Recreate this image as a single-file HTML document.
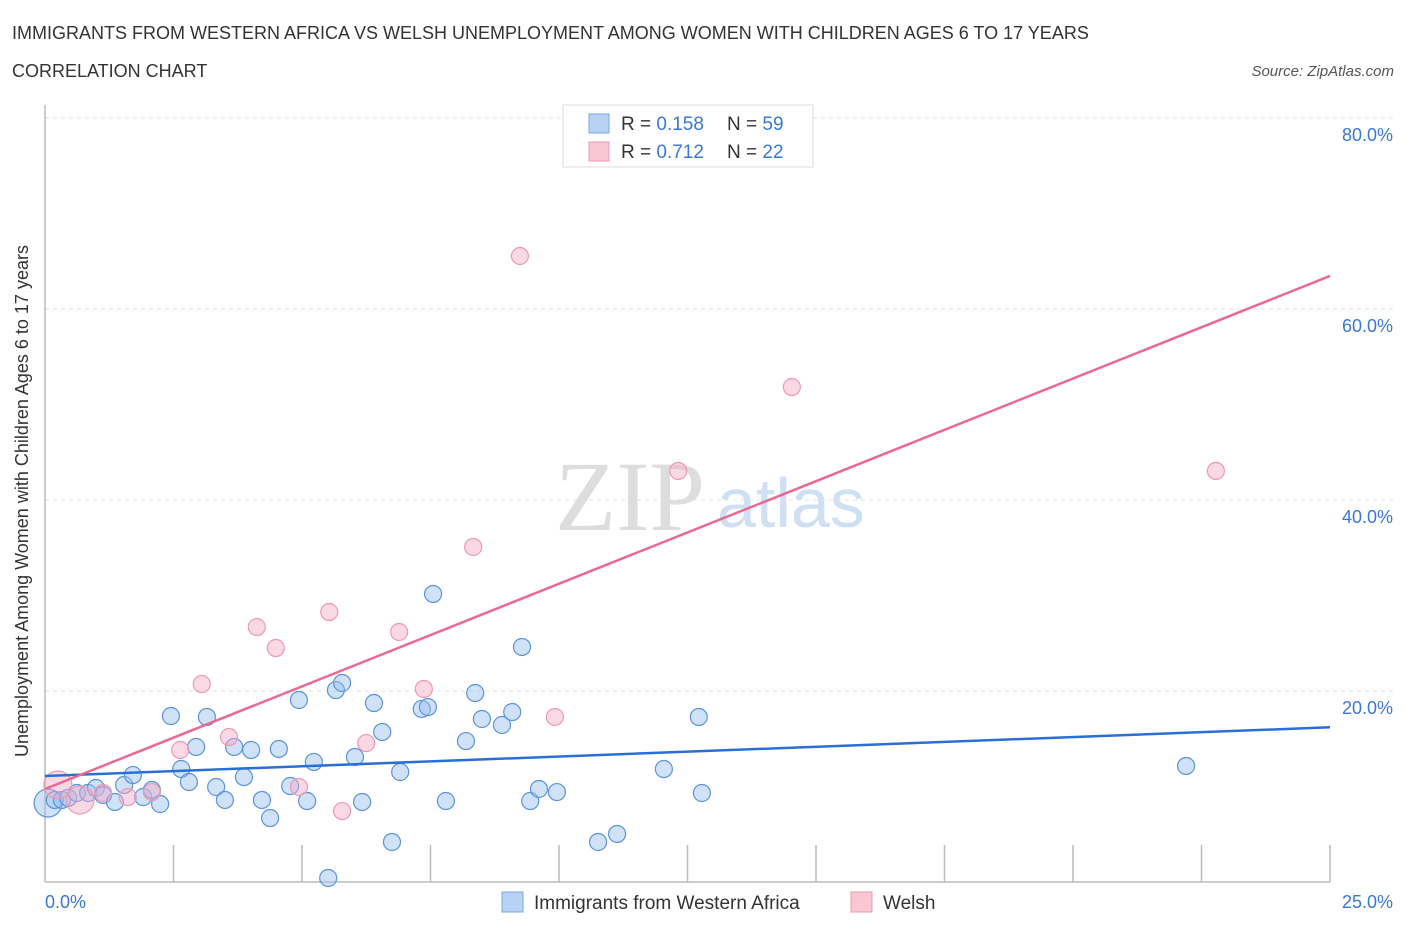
<!DOCTYPE html>
<html><head><meta charset="utf-8"><style>
body{margin:0;background:#fff;font-family:"Liberation Sans",sans-serif;}
</style></head><body>
<svg width="1406" height="930" xmlns="http://www.w3.org/2000/svg" id="chart">
<text x="12" y="39" font-size="18" fill="#333">IMMIGRANTS FROM WESTERN AFRICA VS WELSH UNEMPLOYMENT AMONG WOMEN WITH CHILDREN AGES 6 TO 17 YEARS</text>
<text x="12" y="77" font-size="18" fill="#333">CORRELATION CHART</text>
<text x="1394" y="76" font-size="15" fill="#555" font-style="italic" text-anchor="end">Source: ZipAtlas.com</text>
<text x="555" y="530" font-size="100" fill="#ddd" font-family="Liberation Serif,serif">ZIP</text>
<text x="717" y="527" font-size="70" fill="#cfe0f3">atlas</text>
<g id="grid"></g>
<line x1="45" y1="105" x2="45" y2="882" stroke="#bbb" stroke-width="1.5"/>
<line x1="45" y1="882" x2="1330" y2="882" stroke="#bbb" stroke-width="1.5"/>
<g id="ticks"></g>
<text x="22" y="495" font-size="18" fill="#333" text-anchor="middle" transform="rotate(-90 28 495)">Unemployment Among Women with Children Ages 6 to 17 years</text>
<text x="45" y="908" font-size="18" fill="#3a78d4">0.0%</text>
<text x="1393" y="908" font-size="18" fill="#3a78d4" text-anchor="end">25.0%</text>
<g id="points"></g>
<g id="lines"></g>
<g>
<rect x="563" y="105" width="250" height="62" fill="#fff" stroke="#ddd"/>
<rect x="589" y="114" width="20" height="19" fill="#b8d2f3" stroke="#7aa7e3"/>
<rect x="589" y="142" width="20" height="19" fill="#f9c6d4" stroke="#eb9ab1"/>
<text x="621" y="130" font-size="19" fill="#333">R = <tspan fill="#3a78d4">0.158</tspan><tspan x="727">N = </tspan><tspan fill="#3a78d4">59</tspan></text>
<text x="621" y="158" font-size="19" fill="#333">R = <tspan fill="#3a78d4">0.712</tspan><tspan x="727">N = </tspan><tspan fill="#3a78d4">22</tspan></text>
</g>
<g>
<rect x="502" y="892" width="21" height="20" fill="#b8d2f3" stroke="#7aa7e3"/>
<text x="534" y="909" font-size="19" fill="#333">Immigrants from Western Africa</text>
<rect x="851" y="892" width="21" height="20" fill="#f9c6d4" stroke="#eb9ab1"/>
<text x="883" y="909" font-size="19" fill="#333">Welsh</text>
</g>
</svg>
<script>
const yTicks=[20,40,60,80];
const yTickLabels=["20.0%","40.0%","60.0%","80.0%"];
const xTickVals=[2.5,5,7.5,10,12.5,15,17.5,20,22.5,25];
const blueX=[0.06,0.19,0.33,0.45,0.62,0.84,0.99,1.13,1.36,1.54,1.71,1.91,2.08,2.24,2.45,2.65,2.80,2.94,3.15,3.33,3.50,3.68,3.87,4.01,4.22,4.38,4.55,4.77,4.94,5.10,5.23,5.51,5.66,5.78,6.03,6.17,6.40,6.56,6.75,6.91,7.33,7.45,7.55,7.80,8.19,8.37,8.50,8.89,9.09,9.28,9.44,9.61,9.96,10.76,11.13,12.04,12.72,12.78,22.20];
const blueY=[8.27,8.59,8.59,8.80,9.32,9.32,9.84,9.11,8.38,10.16,11.20,8.90,9.63,8.17,17.38,11.83,10.47,14.14,17.28,9.95,8.59,14.14,10.99,13.82,8.59,6.70,13.93,10.05,19.06,8.48,12.57,0.42,20.10,20.84,13.09,8.38,18.74,15.71,4.19,11.52,18.12,18.32,30.16,8.48,14.76,19.79,17.07,16.44,17.80,24.61,8.48,9.74,9.42,4.19,5.03,11.83,17.28,9.32,12.15];
const pinkX=[0.25,0.68,1.13,1.61,2.08,2.63,3.05,3.58,4.12,4.49,4.94,5.53,5.78,6.25,6.89,7.37,8.33,9.24,9.92,12.32,14.53,22.78];
const pinkY=[10.16,8.59,9.32,8.90,9.42,13.82,20.73,15.18,26.70,24.50,9.95,28.27,7.43,14.55,26.18,20.21,35.08,65.55,17.28,43.04,51.83,43.04];
const blueTrend=[11.1,16.2];
const pinkTrend=[9.74,63.46];
const NS="http://www.w3.org/2000/svg";
const xs=v=>45+v/25*1285, ys=v=>882-v*9.55;
function mk(t,a,p){const e=document.createElementNS(NS,t);for(const k in a)e.setAttribute(k,a[k]);document.getElementById(p).appendChild(e);return e;}
yTicks.forEach((v,i)=>{
 const l=mk('line',{x1:45,x2:1395,y1:ys(v),y2:ys(v),stroke:'#e0e0e0','stroke-dasharray':'4,4'},'grid');
 
 
 const t=mk('text',{x:1393,y:ys(v)+23,'font-size':18,fill:'#3a78d4','text-anchor':'end'},'grid');
 t.textContent=yTickLabels[i];
 
 
});
xTickVals.forEach(v=>{
 const l=mk('line',{x1:xs(v),x2:xs(v),y1:845,y2:882,stroke:'#bbb','stroke-width':1.5},'ticks');
 
 
});
blueX.forEach((x,i)=>{
 const c=mk('circle',{cx:xs(x),cy:ys(blueY[i]),r:i==0?14:8.5,fill:'rgba(150,190,240,0.45)',stroke:'#5b93dd','stroke-width':1.2},'points');
 
 
});
pinkX.forEach((x,i)=>{
 const c=mk('circle',{cx:xs(x),cy:ys(pinkY[i]),r:i<2?14:8.5,fill:'rgba(245,170,195,0.45)',stroke:'#ec9ab3','stroke-width':1.2},'points');
 
 
});
const bl=mk('line',{x1:xs(0),x2:xs(25),y1:ys(blueTrend[0]),y2:ys(blueTrend[1]),stroke:'#2a6fd6','stroke-width':2.5},'lines');


const pl=mk('line',{x1:xs(0),x2:xs(25),y1:ys(pinkTrend[0]),y2:ys(pinkTrend[1]),stroke:'#e86a94','stroke-width':2.5},'lines');


</script>
</body></html>
